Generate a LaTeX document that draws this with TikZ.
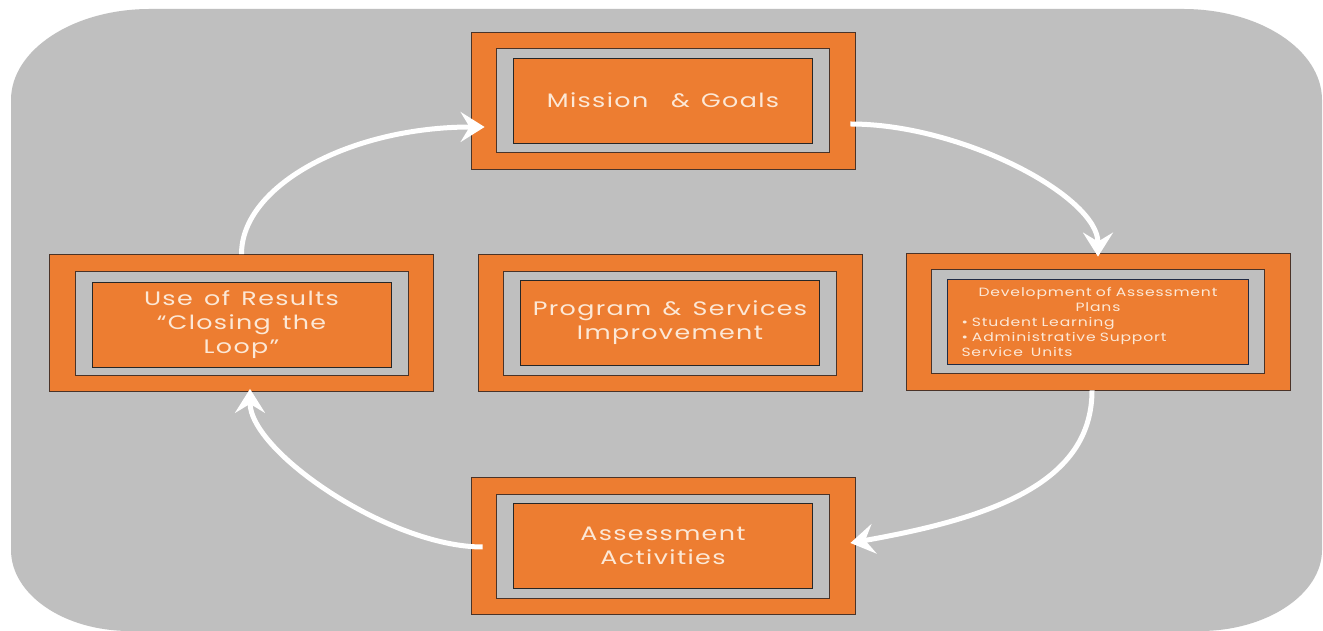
\documentclass[tikz,border=0pt]{standalone}
\usepackage{fontspec}
\setmainfont{Poppins}[FakeStretch=1.3, LetterSpace=7, WordSpace=1.4]
\usepackage{tikz}
\usetikzlibrary{arrows.meta, calc}
\definecolor{bggray}{HTML}{BFBFBF}
\definecolor{boxorange}{HTML}{ED7D31}
\definecolor{boxline}{HTML}{4A3328}
\definecolor{devline}{HTML}{1F2A44}
\definecolor{boxtext}{HTML}{FCE8D6}
\tikzset{>={Stealth[length=24pt,width=30pt,inset=9pt]}}
\tikzset{
  outerbox/.style={draw=boxline, fill=boxorange, line width=0.8pt, minimum width=384pt, minimum height=137pt, inner sep=0pt},
  framebox/.style={draw=boxline, fill=bggray, line width=0.8pt, minimum width=333pt, minimum height=104pt, inner sep=0pt},
  innerbox/.style={draw=black!85, fill=boxorange, line width=0.8pt, minimum width=299pt, minimum height=85pt, inner sep=0pt, text=boxtext, align=center, font=\fontsize{19.5}{24}\selectfont},
  cyclearrow/.style={->, draw=white, line width=5pt}
}

\begin{document}
\begin{tikzpicture}[x=1pt, y=1pt]
\useasboundingbox (0,0) rectangle (1323,631);
\fill[white] (0,0) rectangle (1323,631);
% grey panel
\fill[bggray] (11,531) .. controls (11,581) and (73,622) .. (150,622) -- (1183,622)
  .. controls (1260,622) and (1322,581) .. (1322,531) -- (1322,81)
  .. controls (1322,37) and (1267,0) .. (1200,0) -- (130,0)
  .. controls (63,0) and (11,37) .. (11,81) -- cycle;

% top
\node[outerbox] (mission) at (663,530.5) {};
\node[framebox] (missionframe) at (mission) {};
\node[innerbox] (missiontext) at (mission) {Mission\ \ \& Goals};

% right
\node[outerbox] (dev) at (1098,309.5) {};
\node[framebox] (devframe) at (dev) {};
\node[innerbox, draw=devline, text width=273pt, inner xsep=14pt, align=left,
  font=\fontsize{12}{15}\selectfont] (devtext) at (dev)
  {\makebox[\linewidth]{Development of Assessment}\\
   \makebox[\linewidth]{Plans}\\
   • Student Learning\\
   • Administrative Support\\
   Service\ \ Units};

% left
\node[outerbox] (use) at (241.5,308) {};
\node[framebox] (useframe) at (use) {};
\node[innerbox] (usetext) at ([yshift=-2pt]use) {Use of Results\\“Closing the\\Loop”};

% centre
\node[outerbox] (prog) at (670,308) {};
\node[framebox] (progframe) at (prog) {};
\node[innerbox] (progtext) at (prog) {Program \& Services\\Improvement};

% bottom
\node[outerbox] (assess) at (663,85) {};
\node[framebox] (assessframe) at (assess) {};
\node[innerbox] (assesstext) at (assess) {Assessment\\Activities};

% the cycle
\draw[cyclearrow] ([xshift=-5pt,yshift=-23.5pt]mission.east)
  to[out=0, in=90, out distance=112pt, in distance=60pt] ([yshift=-4pt]dev.north);
\draw[cyclearrow] ([xshift=-6pt]dev.south)
  to[out=-90, in=10, out distance=92pt, in distance=145pt] ([xshift=-5pt,yshift=3pt]assess.east);
\draw[cyclearrow] ([xshift=12pt,yshift=-1pt]assess.west)
  to[out=180, in=-90, out distance=93pt, in distance=63pt] ([xshift=8.5pt,yshift=3pt]use.south);
\draw[cyclearrow] (use.north)
  to[out=90, in=180, out distance=69pt, in distance=134pt] ([xshift=14pt,yshift=-26.5pt]mission.west);
\end{tikzpicture}
\end{document}
